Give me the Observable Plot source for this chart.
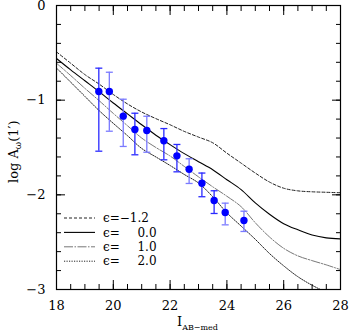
<!DOCTYPE html>
<html><head><meta charset="utf-8">
<script src="https://cdn.jsdelivr.net/npm/d3@7"></script>
<script src="https://cdn.jsdelivr.net/npm/@observablehq/plot@0.6"></script>
<style>
body{margin:0;background:#fff}
#chart{position:relative;width:349px;height:332px}
svg text{font-family:"DejaVu Serif",serif}
</style>
</head><body><div id="chart"></div>
<script>
// model curves: log A_w(1') vs I_AB-med for several epsilon values
const mag    = [18,18.5,19,19.5,20,20.5,21,21.5,22,22.5,23,23.5,24,24.5,25,25.5,26,26.5,27,27.5,28];
const epsM12 = [-0.49,-0.61,-0.73,-0.83,-0.94,-1.04,-1.125,-1.195,-1.26,-1.33,-1.39,-1.45,-1.56,-1.665,-1.77,-1.865,-1.93,-1.958,-1.968,-1.973,-1.978];
const eps0   = [-0.56,-0.68,-0.795,-0.91,-1.03,-1.145,-1.26,-1.37,-1.47,-1.565,-1.65,-1.735,-1.84,-1.945,-2.085,-2.205,-2.305,-2.37,-2.425,-2.455,-2.465];
const eps1   = [-0.61,-0.74,-0.875,-1.005,-1.14,-1.27,-1.40,-1.50,-1.59,-1.70,-1.81,-1.915,-2.015,-2.125,-2.295,-2.445,-2.565,-2.645,-2.695,-2.74,-2.79];
const eps2   = [-0.66,-0.81,-0.96,-1.11,-1.245,-1.375,-1.51,-1.60,-1.69,-1.785,-1.875,-2.02,-2.19,-2.33,-2.47,-2.62,-2.75,-2.865,-2.955,-3.03,-3.10];

// observed points with error bars
const obsMag  = [19.49,19.86,20.35,20.76,21.18,21.78,22.24,22.67,23.12,23.55,23.94,24.60];
const obsLogA = [-0.908,-0.908,-1.169,-1.31,-1.32,-1.429,-1.588,-1.729,-1.877,-2.06,-2.186,-2.271];
const obsHi   = [-0.662,-0.705,-0.99,-1.138,-1.17,-1.30,-1.468,-1.619,-1.77,-1.957,-2.088,-2.173];
const obsLo   = [-1.539,-1.328,-1.489,-1.577,-1.55,-1.63,-1.757,-1.88,-2.02,-2.197,-2.317,-2.387];
const obsSet  = ["a","b","b","a","b","a","a","b","a","a","b","b"];

const xMajor = [18,20,22,24,26,28];
const yMajor = [-3,-2,-1,0];
const legendLabels = ["\u03f5=\u22121.2","\u03f5=\u2007\u2009\u20070.0","\u03f5=\u2007\u2009\u20071.0","\u03f5=\u2007\u2009\u20072.0"];

const curves = mag.map((m,i)=>({m, e1:epsM12[i], e2:eps0[i], e3:eps1[i], e4:eps2[i]}));
const obs = obsMag.map((m,i)=>({m, a:obsLogA[i], hi:obsHi[i], lo:obsLo[i], s:obsSet[i]}));
const barColor = s => s==="a" ? "#2a2aff" : "#7a7aff";
const fmtY = d => d === 0 ? "0" : "\u2212" + Math.abs(d);

const cap = {draw(c, size){ const w = Math.sqrt(size/Math.PI); c.moveTo(-w,0); c.lineTo(w,0); }};

const styles = [
  {k:"e1", stroke:"#222", strokeWidth:1, dash:"3,2"},
  {k:"e2", stroke:"#000", strokeWidth:1.1, dash:null},
  {k:"e3", stroke:"#777", strokeWidth:1, dash:"9,1.5,1.5,1.5"},
  {k:"e4", stroke:"#222", strokeWidth:1, dash:"1.2,1.3"}
];

const plot = Plot.plot({
  width:349, height:332,
  marginLeft:56, marginRight:9, marginTop:5, marginBottom:43,
  style:{fontFamily:"DejaVu Serif", fontSize:"13px", background:"#fff"},
  x:{domain:[18,28]},
  y:{domain:[-3,0]},
  marks:[
    ...styles.map(s=>Plot.line(curves,{x:"m", y:s.k, curve:"catmull-rom", stroke:s.stroke, strokeWidth:s.strokeWidth, strokeDasharray:s.dash, clip:true})),
    Plot.ruleX(obs,{x:"m", y1:"lo", y2:"hi", stroke:d=>barColor(d.s), strokeWidth:1.3}),
    Plot.dot(obs,{x:"m", y:"hi", symbol:cap, r:3.5, stroke:d=>barColor(d.s), strokeWidth:1.3, fill:"none"}),
    Plot.dot(obs,{x:"m", y:"lo", symbol:cap, r:3.5, stroke:d=>barColor(d.s), strokeWidth:1.3, fill:"none"}),
    Plot.dot(obs,{x:"m", y:"a", r:3.7, fill:"#0000ff", stroke:"none"}),
    // ticks (inward), all four sides
    Plot.axisX(d3.range(18,28.01,0.5),{anchor:"bottom", tickSize:-5, tickFormat:()=>"", label:null}),
    Plot.axisX(xMajor,{anchor:"bottom", tickSize:-9, tickFormat:()=>"", label:null}),
    Plot.axisX(d3.range(18,28.01,0.5),{anchor:"top", tickSize:-5, tickFormat:()=>"", label:null}),
    Plot.axisX(xMajor,{anchor:"top", tickSize:-9, tickFormat:()=>"", label:null}),
    Plot.axisY(d3.range(-3,0.01,0.2),{anchor:"left", tickSize:-5, tickFormat:()=>"", label:null}),
    Plot.axisY(yMajor,{anchor:"left", tickSize:-9, tickFormat:()=>"", label:null}),
    Plot.axisY(d3.range(-3,0.01,0.2),{anchor:"right", tickSize:-5, tickFormat:()=>"", label:null}),
    Plot.axisY(yMajor,{anchor:"right", tickSize:-9, tickFormat:()=>"", label:null}),
    // labels
    Plot.axisX(xMajor,{anchor:"bottom", tickSize:0, tickPadding:11, fontSize:13, label:null, fill:"#000"}),
    Plot.axisY(yMajor,{anchor:"left", tickSize:0, tickPadding:11, fontSize:13, label:null, fill:"#000", tickFormat:fmtY}),
    Plot.frame({stroke:"#000", strokeWidth:1.2})
  ]
});
document.getElementById("chart").appendChild(plot);

const svg = d3.select(plot);
// x-axis title
const xt = svg.append("text").attr("x",177).attr("y",326).attr("text-anchor","start").attr("font-size",13).attr("fill","#000");
xt.append("tspan").text("I");
xt.append("tspan").attr("font-size",8).attr("dy",4).text("AB\u2212med");
// y-axis title
const yt = svg.append("text").attr("transform","translate(18,183) rotate(-90)").attr("text-anchor","start").attr("font-size",13).attr("fill","#000");
yt.append("tspan").text("log A");
yt.append("tspan").attr("font-size",9).attr("dy",3).text("\u03c9");
yt.append("tspan").attr("dy",-3).text("(1\u2032)");
// legend
const lg = svg.append("g");
styles.forEach((s,i)=>{
  const y = 218 + i*14.4;
  lg.append("line").attr("x1",64).attr("x2",95).attr("y1",y).attr("y2",y)
    .attr("stroke",s.stroke).attr("stroke-width",s.strokeWidth).attr("stroke-dasharray",s.dash);
  lg.append("text").attr("x",103).attr("y",y).attr("dy","0.35em").attr("text-anchor","start").attr("font-size",12).attr("fill","#000").text(legendLabels[i]);
});
</script>
</body></html>
